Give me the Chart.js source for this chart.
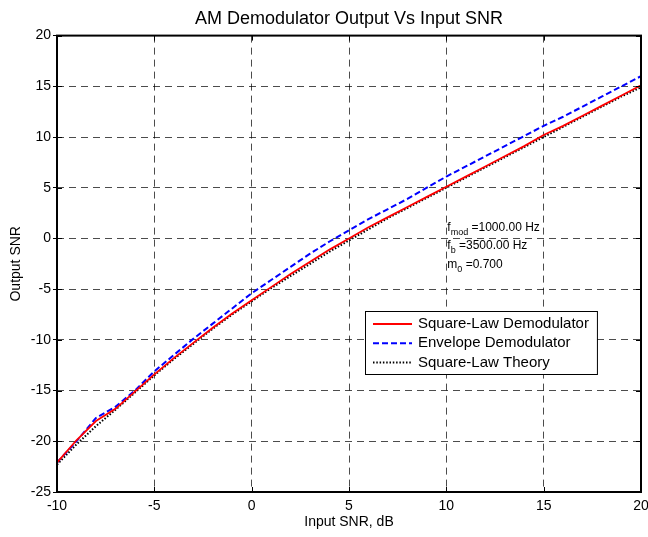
<!DOCTYPE html>
<html>
<head>
<meta charset="utf-8">
<title>AM Demodulator Output Vs Input SNR</title>
<script src="https://cdn.jsdelivr.net/npm/chart.js@4.4.1/dist/chart.umd.min.js"></script>
<style>
  html, body { margin: 0; padding: 0; background: #fff; }
  #wrap { width: 648px; height: 537px; position: relative; }
</style>
</head>
<body>
<div id="wrap"><canvas id="snrChart"></canvas></div>
<script>
// input SNR in dB
const inputSnr = [-10, -9, -8, -7, -6, -5, -4, -3, -2, -1, 0, 1, 2, 3, 4, 5, 6, 7, 8, 9, 10,
    11, 12, 13, 14, 15, 16, 17, 18, 19, 20];

// measured output SNR, square-law detector
const squareLawOut = [-22.1, -19.9, -18.0, -16.8, -15.1, -13.4, -11.8, -10.3, -8.8, -7.4, -6.1,
    -4.8, -3.5, -2.3, -1.1, 0.0, 1.1, 2.1, 3.1, 4.1, 5.1,
    6.1, 7.1, 8.1, 9.1, 10.2, 11.1, 12.1, 13.1, 14.1, 15.1];

// measured output SNR, envelope detector
const envelopeOut = [-22.1, -20.0, -17.7, -16.6, -15.0, -13.1, -11.5, -9.9, -8.4, -6.9, -5.4,
    -4.1, -2.8, -1.5, -0.3, 0.8, 1.9, 2.9, 3.9, 5.0, 6.1,
    7.1, 8.1, 9.1, 10.1, 11.1, 12.0, 13.0, 14.0, 15.0, 16.0];

// square-law theory curve
const theoryOut = [-22.3, -20.3, -18.5, -16.9, -15.2, -13.5, -11.9, -10.4, -8.9, -7.5, -6.2,
    -4.9, -3.7, -2.5, -1.3, -0.2, 0.9, 2.0, 3.0, 4.0, 5.0,
    6.0, 7.0, 8.0, 9.0, 10.0, 11.0, 12.0, 13.0, 14.0, 14.9];

const xTicks = [-10, -5, 0, 5, 10, 15, 20];
const yTicks = [-25, -20, -15, -10, -5, 0, 5, 10, 15, 20];

const paramLines = [
    { main: 'f', sub: 'mod', rest: ' =1000.00 Hz' },
    { main: 'f', sub: 'b', rest: ' =3500.00 Hz' },
    { main: 'm', sub: '0', rest: ' =0.700' }
];

const FONT = '"Liberation Sans", Arial, sans-serif';

function toPoints(ys) {
    return inputSnr.map(function (x, i) { return { x: x, y: ys[i] }; });
}

// MATLAB-style frame with inward tick marks
const axesBox = {
    id: 'axesBox',
    afterDatasetsDraw(chart) {
        const ctx = chart.ctx;
        const a = chart.chartArea;
        const xs = chart.scales.x, ys = chart.scales.y;
        ctx.save();
        ctx.strokeStyle = '#000';
        ctx.lineWidth = 1;
        ctx.beginPath();
        xTicks.forEach(function (v) {
            const px = Math.round(xs.getPixelForValue(v)) + 0.5;
            ctx.moveTo(px, a.bottom); ctx.lineTo(px, a.bottom - 5);
            ctx.moveTo(px, a.top); ctx.lineTo(px, a.top + 5);
        });
        yTicks.forEach(function (v) {
            const py = Math.round(ys.getPixelForValue(v)) + 0.5;
            ctx.moveTo(a.left, py); ctx.lineTo(a.left + 5, py);
            ctx.moveTo(a.right, py); ctx.lineTo(a.right - 5, py);
        });
        ctx.stroke();
        ctx.lineWidth = 2;
        ctx.strokeRect(a.left, a.top, a.right - a.left, a.bottom - a.top);
        ctx.restore();
    }
};

// parameter text block
const paramText = {
    id: 'paramText',
    afterDatasetsDraw(chart) {
        const ctx = chart.ctx;
        const x0 = chart.scales.x.getPixelForValue(10.05);
        let y0 = chart.scales.y.getPixelForValue(0.75);
        ctx.save();
        ctx.fillStyle = '#000';
        ctx.textBaseline = 'alphabetic';
        paramLines.forEach(function (ln) {
            let x = x0;
            ctx.font = '12px ' + FONT;
            ctx.fillText(ln.main, x, y0);
            x += ctx.measureText(ln.main).width;
            ctx.font = '9px ' + FONT;
            ctx.fillText(ln.sub, x, y0 + 4);
            x += ctx.measureText(ln.sub).width;
            ctx.font = '12px ' + FONT;
            ctx.fillText(ln.rest, x, y0);
            y0 += 18.5;
        });
        ctx.restore();
    }
};

// legend box inside the axes
const boxLegend = {
    id: 'boxLegend',
    afterDraw(chart) {
        const ctx = chart.ctx;
        const sets = chart.data.datasets;
        ctx.save();
        ctx.font = '15px ' + FONT;
        let textW = 0;
        sets.forEach(function (d) { textW = Math.max(textW, ctx.measureText(d.label).width); });
        const left = 365, top = 311;
        const w = 8 + 39 + 6 + textW + 8, h = 63;
        ctx.fillStyle = '#fff';
        ctx.fillRect(left, top, w, h);
        ctx.strokeStyle = '#000';
        ctx.lineWidth = 1;
        ctx.strokeRect(left + 0.5, top + 0.5, w, h);
        sets.forEach(function (d, i) {
            const cy = top + 13 + i * 19.3;
            ctx.strokeStyle = d.borderColor;
            ctx.lineWidth = d.borderWidth;
            ctx.setLineDash(d.borderDash || []);
            ctx.beginPath();
            ctx.moveTo(left + 8, cy);
            ctx.lineTo(left + 47, cy);
            ctx.stroke();
            ctx.setLineDash([]);
            ctx.fillStyle = '#000';
            ctx.textBaseline = 'middle';
            ctx.fillText(d.label, left + 53, cy);
        });
        ctx.restore();
    }
};

const ctx = document.getElementById('snrChart').getContext('2d');
new Chart(ctx, {
    type: 'line',
    data: {
        datasets: [{
            label: 'Square-Law Demodulator',
            data: toPoints(squareLawOut),
            borderColor: '#ff0000',
            borderWidth: 1.8,
            pointRadius: 0,
            tension: 0
        }, {
            label: 'Envelope Demodulator',
            data: toPoints(envelopeOut),
            borderColor: '#0000ff',
            borderWidth: 2,
            borderDash: [6, 3],
            pointRadius: 0,
            tension: 0
        }, {
            label: 'Square-Law Theory',
            data: toPoints(theoryOut),
            borderColor: '#000000',
            borderWidth: 2,
            borderDash: [1.5, 1.8],
            pointRadius: 0,
            tension: 0
        }]
    },
    options: {
        responsive: true,
        maintainAspectRatio: false,
        animation: false,
        layout: { padding: { left: 0, right: 7, top: 0, bottom: 0 } },
        scales: {
            x: {
                type: 'linear',
                min: -10,
                max: 20,
                afterBuildTicks: function (scale) {
                    scale.ticks = xTicks.map(function (v) { return { value: v }; });
                },
                afterFit: function (scale) {
                    scale.height = 45;
                    scale.paddingLeft = 0;
                    scale.paddingRight = 0;
                },
                grid: {
                    color: 'rgba(0,0,0,0.7)',
                    lineWidth: 1,
                    drawTicks: false
                },
                border: { display: false, dash: [7, 5] },
                ticks: { color: '#000', font: { family: FONT, size: 14 }, padding: 6, maxRotation: 0 },
                title: {
                    display: true,
                    text: 'Input SNR, dB',
                    color: '#000',
                    font: { family: FONT, size: 14 },
                    padding: { top: 0, bottom: 6 }
                }
            },
            y: {
                type: 'linear',
                min: -25,
                max: 20,
                afterBuildTicks: function (scale) {
                    scale.ticks = yTicks.map(function (v) { return { value: v }; });
                },
                afterFit: function (scale) {
                    scale.width = 57;
                    scale.paddingTop = 0;
                    scale.paddingBottom = 0;
                },
                grid: {
                    color: 'rgba(0,0,0,0.7)',
                    lineWidth: 1,
                    tickLength: 4,
                    tickColor: '#000',
                    tickBorderDash: []
                },
                border: { display: false, dash: [7, 5] },
                ticks: { color: '#000', font: { family: FONT, size: 14 }, padding: 2 },
                title: {
                    display: true,
                    text: 'Output SNR',
                    color: '#000',
                    font: { family: FONT, size: 14 },
                    padding: { top: 8, bottom: 0 }
                }
            }
        },
        plugins: {
            legend: { display: false },
            tooltip: { enabled: false },
            title: {
                display: true,
                fullSize: false,
                text: 'AM Demodulator Output Vs Input SNR',
                color: '#000',
                font: { family: FONT, size: 18, weight: 'normal' },
                padding: { top: 8, bottom: 6 }
            }
        }
    },
    plugins: [axesBox, paramText, boxLegend]
});
</script>
</body>
</html>
